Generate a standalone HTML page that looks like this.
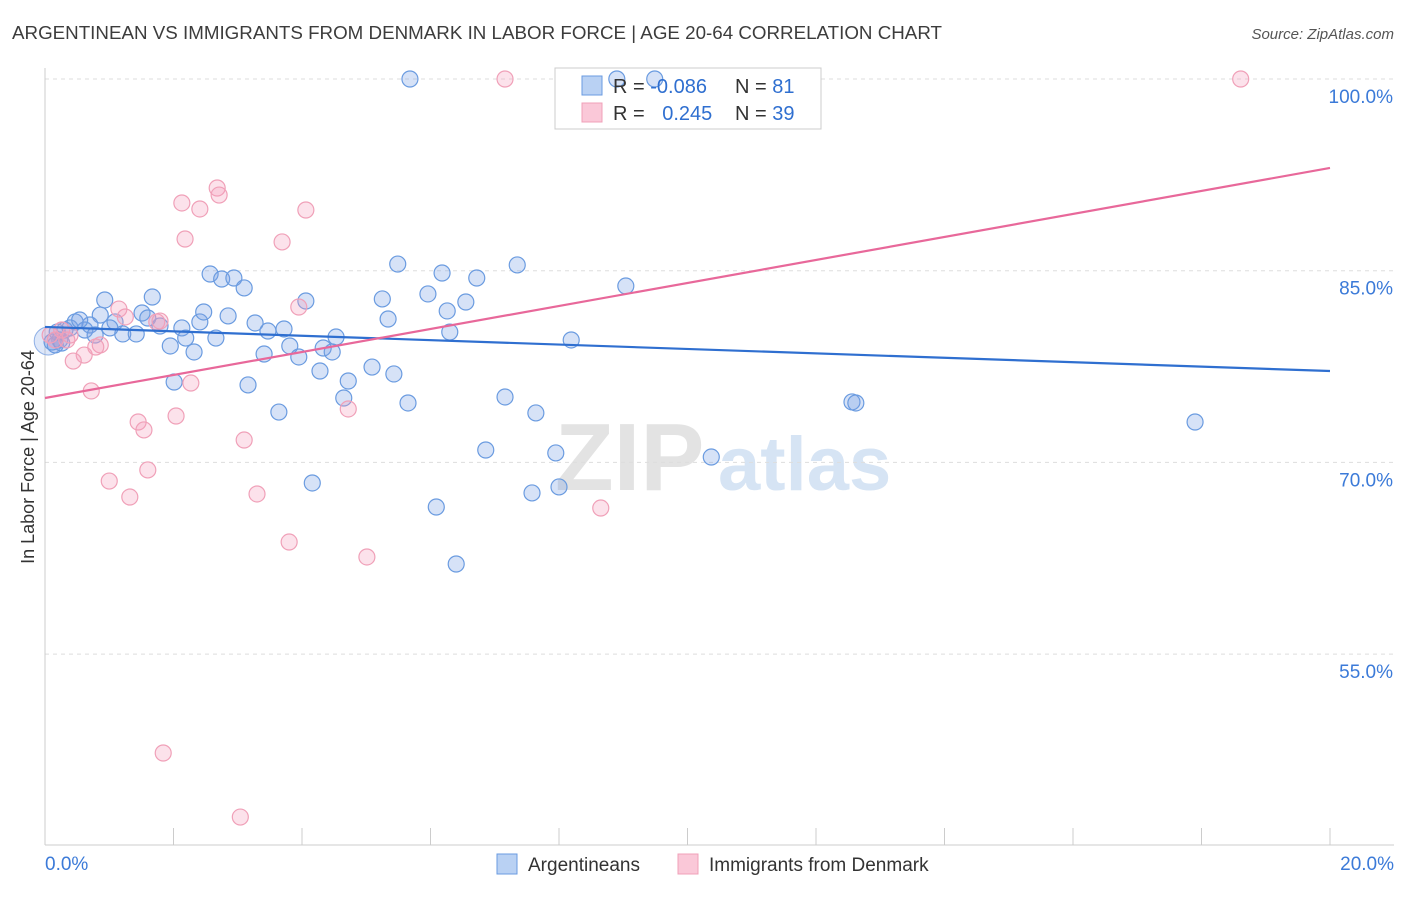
<!DOCTYPE html>
<html><head><meta charset="utf-8">
<style>
body{margin:0;background:#fff;font-family:"Liberation Sans",sans-serif;}
svg text{font-family:"Liberation Sans",sans-serif;}
</style></head>
<body>
<svg id="chart" width="1406" height="892" viewBox="0 0 1406 892" xmlns="http://www.w3.org/2000/svg">
<text x="12" y="39" font-size="18" fill="#3c3c3c" textLength="930" lengthAdjust="spacingAndGlyphs">ARGENTINEAN VS IMMIGRANTS FROM DENMARK IN LABOR FORCE | AGE 20-64 CORRELATION CHART</text>
<text x="1394" y="39" font-size="15" fill="#555" text-anchor="end" font-style="italic">Source: ZipAtlas.com</text>
<g>
<text x="555" y="490" font-size="96" fill="#e3e3e3" font-family="Liberation Serif" font-weight="bold">ZIP</text>
<text x="718" y="490" font-size="76" fill="#d6e4f4" font-weight="bold">atlas</text>
</g>
<g id="grid"></g>
<g id="axes"></g>
<text transform="translate(34,457) rotate(-90)" font-size="18" fill="#333" text-anchor="middle">In Labor Force | Age 20-64</text>
<g>
<rect x="555" y="68" width="266" height="61" fill="#fff" stroke="#ccc"/>
</g>
<g id="pts"></g>
<g id="lines"></g>
<g>
<rect x="582" y="76" width="20" height="19" fill="#b9d1f3" stroke="#6a9be0"/>
<rect x="582" y="103" width="20" height="19" fill="#fac8d8" stroke="#f0a0b8"/>
<text x="613" y="93" font-size="20" fill="#333">R = <tspan fill="#2f6fd0">-0.086</tspan></text>
<text x="735" y="93" font-size="20" fill="#333">N = <tspan fill="#2f6fd0">81</tspan></text>
<text x="613" y="120" font-size="20" fill="#333">R = <tspan fill="#2f6fd0" dx="12">0.245</tspan></text>
<text x="735" y="120" font-size="20" fill="#333">N = <tspan fill="#2f6fd0">39</tspan></text>
</g>
<g>
<rect x="497" y="854" width="20" height="20" fill="#b9d1f3" stroke="#6a9be0"/>
<text x="528" y="871" font-size="19" fill="#333">Argentineans</text>
<rect x="678" y="854" width="20" height="20" fill="#fac8d8" stroke="#f0a0b8"/>
<text x="709" y="871" font-size="19" fill="#333">Immigrants from Denmark</text>
</g>
</svg>
<script>
const yTicks=[100,85,70,55];
const yTickLabels=["100.0%","85.0%","70.0%","55.0%"];
const xTicks=[0,2,4,6,8,10,12,14,16,18,20];
const blueX=[5.68,8.90,9.49,0.93,1.67,2.57,2.75,2.94,3.10,5.49,6.18,6.72,7.35,9.04,5.96,6.55,5.25,4.06,5.34,6.26,6.30,8.19,0.47,0.86,1.09,1.51,1.79,2.13,2.41,2.47,2.85,3.27,3.47,3.72,4.53,2.19,2.66,1.95,2.32,3.41,3.81,3.95,4.33,4.47,5.09,5.43,4.72,4.28,2.01,3.16,4.65,5.65,3.64,7.16,7.64,12.56,12.62,17.90,6.86,7.95,10.37,4.16,7.58,8.00,6.09,6.40,0.23,0.31,0.70,0.16,1.21,1.42,0.19,0.62,0.39,1.01,0.11,0.26,0.78,0.54,1.60];
const blueY=[100,100,100,82.71,82.94,84.74,84.35,84.43,83.65,85.52,84.82,84.43,85.45,83.80,83.18,82.55,82.79,82.63,81.22,81.85,80.20,79.58,80.99,81.53,80.99,81.69,80.67,80.52,80.99,81.77,81.46,80.91,80.28,80.44,79.81,79.73,79.73,79.11,78.64,78.48,79.11,78.25,78.95,78.64,77.46,76.92,76.37,77.15,76.29,76.06,75.04,74.65,73.94,75.12,73.87,74.73,74.65,73.16,70.97,70.74,70.42,68.39,67.61,68.08,66.51,62.05,79.58,80.36,80.75,79.19,80.05,80.05,80.20,80.36,80.52,80.52,79.42,79.34,79.97,81.14,81.30];
const pinkX=[7.16,18.61,2.68,2.71,2.13,2.41,4.06,2.18,3.69,1.15,1.25,1.74,3.95,0.08,0.34,0.26,0.86,0.61,0.44,2.27,0.72,4.72,1.45,1.54,2.04,3.10,1.60,1.00,1.32,3.30,8.65,3.80,5.01,1.84,3.04,0.16,0.39,0.79,1.79];
const pinkY=[100,100,91.47,90.92,90.30,89.83,89.75,87.48,87.25,82.00,81.38,80.99,82.16,79.97,79.58,80.36,79.19,78.40,77.93,76.21,75.59,74.18,73.16,72.54,73.63,71.75,69.41,68.54,67.29,67.53,66.43,63.77,62.60,47.26,42.25,79.58,79.97,79.03,81.06];
const blueTrend=[80.6,77.15];
const pinkTrend=[75.04,93.04];
const NS="http://www.w3.org/2000/svg";
const X=v=>45+v/20*1285;
const Y=v=>79+(100-v)*12.78;
function mk(tag,attrs,parent){const e=document.createElementNS(NS,tag);for(const k in attrs)e.setAttribute(k,attrs[k]);parent.appendChild(e);return e;}
const grid=document.getElementById('grid'),axes=document.getElementById('axes'),pts=document.getElementById('pts'),lines=document.getElementById('lines');
yTicks.forEach((t,i)=>{
 const l=mk('line',{x1:45,x2:1394,y1:Y(t),y2:Y(t),stroke:'#ddd','stroke-dasharray':'4,4'},grid);
 
 
 const tx=mk('text',{x:1393,y:Y(t)+24,'font-size':19,fill:'#3b7ad8','text-anchor':'end'},axes);
 tx.textContent=yTickLabels[i];
 
 
});
let a=mk('line',{x1:45,x2:45,y1:68,y2:845,stroke:'#ccc'},axes);
a=mk('line',{x1:45,x2:1394,y1:845,y2:845,stroke:'#ccc'},axes);
xTicks.forEach(t=>{
 const l=mk('line',{x1:X(t),x2:X(t),y1:828,y2:845,stroke:'#ccc'},axes);
 
 
});
const xl0=mk('text',{x:45,y:870,'font-size':19,fill:'#3b7ad8'},axes);xl0.textContent='0.0%';


const xl1=mk('text',{x:1394,y:870,'font-size':19,fill:'#3b7ad8','text-anchor':'end'},axes);xl1.textContent='20.0%';


const big=mk('circle',{cx:X(0.05),cy:Y(79.5),r:14,fill:'rgba(120,160,230,0.25)',stroke:'#8fb0e6'},pts);


blueX.forEach((x,i)=>{
 const c=mk('circle',{cx:X(x),cy:Y(blueY[i]),r:8,fill:'rgba(120,160,230,0.3)',stroke:'#6a9be0','stroke-width':1.2},pts);
 
 
});
pinkX.forEach((x,i)=>{
 const c=mk('circle',{cx:X(x),cy:Y(pinkY[i]),r:8,fill:'rgba(245,160,190,0.3)',stroke:'#f0a0b8','stroke-width':1.2},pts);
 
 
});
const bl=mk('line',{x1:X(0),x2:X(20),y1:Y(blueTrend[0]),y2:Y(blueTrend[1]),stroke:'#2f6fd0','stroke-width':2.2},lines);


const pl=mk('line',{x1:X(0),x2:X(20),y1:Y(pinkTrend[0]),y2:Y(pinkTrend[1]),stroke:'#e8689a','stroke-width':2.2},lines);


</script>
</body></html>
